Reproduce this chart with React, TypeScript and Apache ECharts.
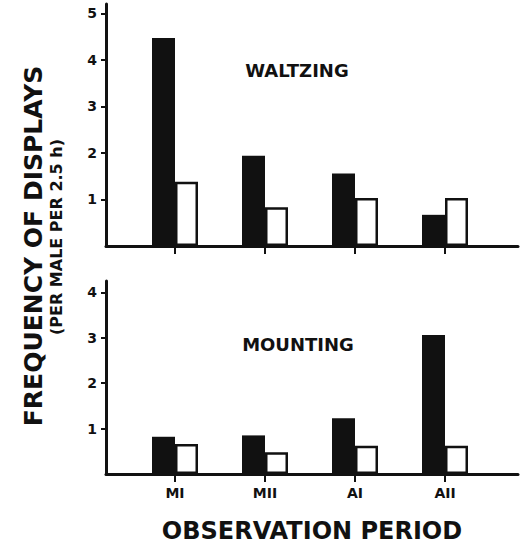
import React, { useEffect, useRef } from 'react';
import * as echarts from 'echarts';

const categories = ['MI', 'MII', 'AI', 'AII'];
const waltzingSolid = [4.47, 1.94, 1.56, 0.67];
const waltzingOpen = [1.38, 0.83, 1.03, 1.03];
const mountingSolid = [0.82, 0.85, 1.23, 3.06];
const mountingOpen = [0.66, 0.48, 0.62, 0.62];
const waltzingTicks = [1, 2, 3, 4, 5];
const mountingTicks = [1, 2, 3, 4];

const INK = '#111';
const FONT = 'DejaVu Sans';

export default function App() {
  const ref = useRef<HTMLDivElement>(null);
  useEffect(() => {
    if (!ref.current) return;
    const chart = echarts.init(ref.current, null, { renderer: 'svg' });
    const baseX = (gridIndex: number) => ({
      gridIndex,
      type: 'value',
      min: 0,
      max: 1,
      axisLine: { show: true, lineStyle: { color: INK, width: 3 } },
      axisTick: { show: false },
      axisLabel: { show: false },
      splitLine: { show: false },
    });
    const catX = (gridIndex: number, labels: boolean) => ({
      gridIndex,
      type: 'category',
      data: categories,
      axisLine: { show: false },
      axisTick: { show: true, alignWithLabel: true, length: 8, lineStyle: { color: INK, width: 2 } },
      axisLabel: {
        show: labels,
        margin: 12,
        color: INK,
        fontFamily: FONT,
        fontWeight: 'bold',
        fontSize: 14,
      },
      splitLine: { show: false },
    });
    const mainY = (gridIndex: number, max: number, ticks: number[]) => ({
      gridIndex,
      type: 'value',
      min: 0,
      max,
      axisLine: { show: true, lineStyle: { color: INK, width: 3 } },
      axisTick: { show: true, customValues: ticks, length: 5, lineStyle: { color: INK, width: 2 } },
      axisLabel: {
        customValues: ticks,
        margin: 9,
        color: INK,
        fontFamily: FONT,
        fontWeight: 'bold',
        fontSize: 14,
      },
      splitLine: { show: false },
    });
    const hiddenY = (gridIndex: number, max: number) => ({
      gridIndex,
      type: 'value',
      min: 0,
      max,
      show: false,
      splitLine: { show: false },
    });
    const solid = (xi: number, data: number[]) => ({
      type: 'bar',
      xAxisIndex: xi,
      yAxisIndex: xi,
      data,
      barWidth: 23,
      barGap: '0%',
      itemStyle: { color: INK },
    });
    const open = (xi: number, data: number[]) => ({
      type: 'bar',
      xAxisIndex: xi,
      yAxisIndex: xi,
      data,
      barWidth: 23,
      barGap: '0%',
      itemStyle: { color: '#fff', borderColor: INK, borderWidth: 2.5 },
    });
    const textStyle = (size: number) => ({
      fill: INK,
      fontFamily: FONT,
      fontWeight: 'bold',
      fontSize: size,
      textAlign: 'center',
      textVerticalAlign: 'middle',
    });
    const g = (o: any) => ({ ...o, containLabel: false, outerBoundsMode: 'none' });
    chart.setOption({
      animation: false,
      backgroundColor: '#fff',
      grid: [
        g({ left: 106, right: 4, top: 4, bottom: 299 }),
        g({ left: 130, width: 360, top: 4, bottom: 299 }),
        g({ left: 106, right: 4, top: 281, bottom: 71 }),
        g({ left: 130, width: 360, top: 281, bottom: 71 }),
      ],
      xAxis: [
        baseX(0),
        catX(1, false),
        {
          ...baseX(2),
          name: 'OBSERVATION PERIOD',
          nameLocation: 'middle',
          nameGap: 45,
          nameTextStyle: { color: INK, fontFamily: FONT, fontWeight: 'bold', fontSize: 24 },
        },
        catX(3, true),
      ],
      yAxis: [
        mainY(0, 5.2, waltzingTicks),
        hiddenY(1, 5.2),
        mainY(2, 4.25, mountingTicks),
        hiddenY(3, 4.25),
      ],
      series: [
        solid(1, waltzingSolid),
        open(1, waltzingOpen),
        solid(3, mountingSolid),
        open(3, mountingOpen),
      ],
      graphic: [
        { type: 'text', x: 297, y: 70, style: { text: 'WALTZING', ...textStyle(18) } },
        { type: 'text', x: 298, y: 344, style: { text: 'MOUNTING', ...textStyle(18) } },
        {
          type: 'text',
          x: 33,
          y: 246,
          rotation: Math.PI / 2,
          style: { text: 'FREQUENCY OF DISPLAYS', ...textStyle(25) },
        },
        {
          type: 'text',
          x: 56,
          y: 237,
          rotation: Math.PI / 2,
          style: { text: '(PER MALE PER 2.5 h)', ...textStyle(16) },
        },
      ],
    });
    return () => chart.dispose();
  }, []);
  return (
    <div
      ref={ref}
      style={{ position: 'absolute', left: 0, top: 0, width: 522, height: 545, background: '#fff' }}
    />
  );
}
